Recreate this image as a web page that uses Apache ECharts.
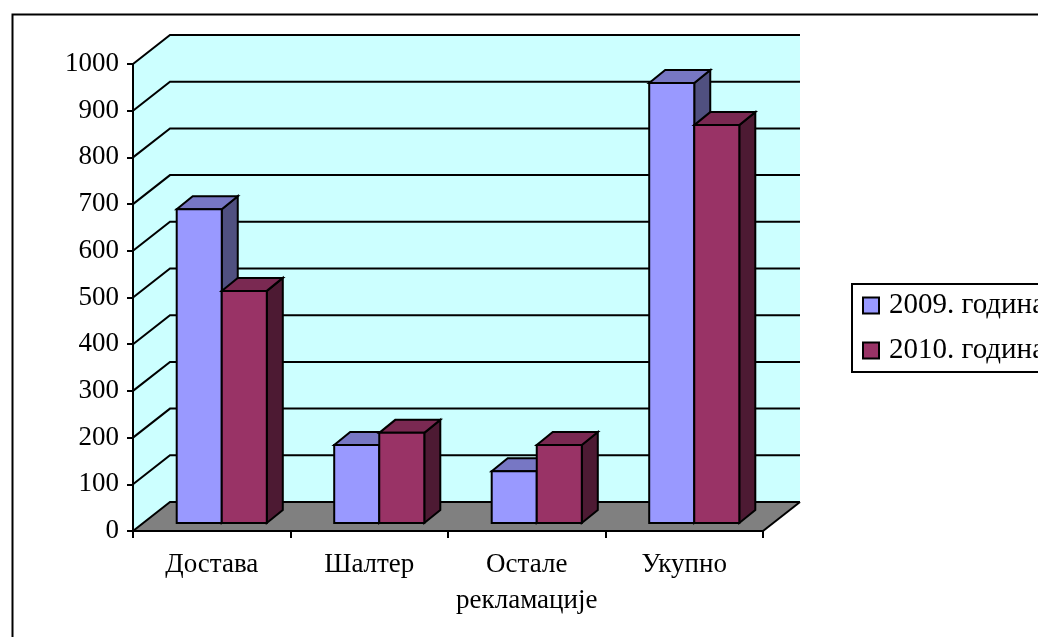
<!DOCTYPE html>
<html>
<head>
<meta charset="utf-8">
<script src="https://cdn.jsdelivr.net/npm/echarts@6/dist/echarts.min.js"></script>
<style>
  html, body { margin: 0; padding: 0; background: #fff; }
  #chart { width: 1038px; height: 637px; }
</style>
</head>
<body>
<div id="chart"></div>
<script>
// podaci
var categories = ['Достава', 'Шалтер', 'Остале\nрекламације', 'Укупно'];
var seriesNames = ['2009. година', '2010. година'];
var values2009 = [672, 167, 111, 942];
var values2010 = [497, 193, 167, 852];
var yTicks = [0, 100, 200, 300, 400, 500, 600, 700, 800, 900, 1000];

// izgled
var FONT = 'Liberation Serif';
var FS = 27;
var WALL = [37, -29];      // pomak zadnjeg zida
var BAR_OFF = [10, -8];    // gde stoje stubici po dubini
var BAR_DEPTH = [16, -13]; // dubina stubica
var faces = [
    { front: '#9999FF', top: '#7777C4', side: '#505080' },
    { front: '#993366', top: '#7A2952', side: '#4D1A33' }
];

var chart = echarts.init(document.getElementById('chart'), null, { renderer: 'canvas' });

function renderBack(params, api) {
    var cs = params.coordSys;
    var x0 = cs.x, x1 = cs.x + cs.width;
    var y0 = api.coord([0, 0])[1];
    var yTop = api.coord([0, yTicks[yTicks.length - 1]])[1];
    var dx = WALL[0], dy = WALL[1];
    var children = [];
    // bocni zid
    children.push({ type: 'polygon', shape: { points: [[x0, yTop], [x0 + dx, yTop + dy], [x0 + dx, y0 + dy], [x0, y0]] },
        style: { fill: '#CCFFFF' } });
    // zadnji zid
    children.push({ type: 'rect', shape: { x: x0 + dx, y: yTop + dy, width: x1 - x0, height: y0 - yTop },
        style: { fill: '#CCFFFF' } });
    // pod
    children.push({ type: 'polygon', shape: { points: [[x0, y0], [x1, y0], [x1 + dx, y0 + dy], [x0 + dx, y0 + dy]] },
        style: { fill: '#808080' } });
    // linije mreze
    yTicks.forEach(function (v) {
        var y = api.coord([0, v])[1];
        children.push({ type: 'polyline', shape: { points: [[x0, y], [x0 + dx, y + dy], [x1 + dx, y + dy]] },
            style: { stroke: '#000', lineWidth: 2, fill: null } });
    });
    children.push({ type: 'line', shape: { x1: x1, y1: y0, x2: x1 + dx, y2: y0 + dy },
        style: { stroke: '#000', lineWidth: 2 } });
    return { type: 'group', children: children };
}

function renderBar(params, api) {
    var s = params.seriesIndex - 1;
    var f = faces[s];
    var base = api.coord([api.value(0), 0]);
    var top = api.coord([api.value(0), api.value(1)]);
    var band = api.size([1, 0])[0];
    var w = band * 0.286;
    var x = base[0] + BAR_OFF[0] + (s === 0 ? -w : 0);
    var yb = base[1] + BAR_OFF[1];
    var yt = top[1] + BAR_OFF[1];
    var dx = BAR_DEPTH[0], dy = BAR_DEPTH[1];
    var st = { stroke: '#000', lineWidth: 2, lineJoin: 'miter' };
    return {
        type: 'group',
        children: [
            { type: 'polygon', shape: { points: [[x + w, yt], [x + w + dx, yt + dy], [x + w + dx, yb + dy], [x + w, yb]] },
              style: Object.assign({ fill: f.side }, st) },
            { type: 'polygon', shape: { points: [[x, yt], [x + w, yt], [x + w + dx, yt + dy], [x + dx, yt + dy]] },
              style: Object.assign({ fill: f.top }, st) },
            { type: 'rect', shape: { x: x, y: yt, width: w, height: yb - yt },
              style: Object.assign({ fill: f.front }, st) }
        ]
    };
}

var option = {
    backgroundColor: '#fff',
    animation: false,
    textStyle: { fontFamily: FONT },
    graphic: [{
        type: 'rect', left: 10, top: 12, z: 100, silent: true,
        shape: { x: 0, y: 0, width: 1100, height: 700 },
        style: { fill: null, stroke: '#000', lineWidth: 2 }
    }],
    grid: { left: 133, right: 275, top: 64, bottom: 106, containLabel: false },
    legend: {
        orient: 'vertical',
        left: 852, top: 284,
        data: seriesNames,
        borderColor: '#000', borderWidth: 2, borderRadius: 0,
        padding: [7, 10, 7, 10],
        itemWidth: 16, itemHeight: 16, itemGap: 16,
        icon: 'rect',
        textStyle: { fontFamily: FONT, fontSize: 29, color: '#000', padding: [0, 0, 0, 5] }
    },
    xAxis: {
        type: 'category',
        data: categories,
        z: 10,
        axisLine: { lineStyle: { color: '#000', width: 2 } },
        axisTick: { show: true, length: 7, lineStyle: { color: '#000', width: 2 } },
        axisLabel: { fontFamily: FONT, fontSize: FS, color: '#000', margin: 16, lineHeight: 36, interval: 0 },
        splitLine: { show: false }
    },
    yAxis: {
        type: 'value',
        min: 0, max: 1000, interval: 100,
        z: 10,
        axisLine: { show: true, lineStyle: { color: '#000', width: 2 } },
        axisTick: { show: true, length: 6, lineStyle: { color: '#000', width: 2 } },
        axisLabel: { fontFamily: FONT, fontSize: FS, color: '#000', margin: 14,
            formatter: function (v) { return String(v); } },
        splitLine: { show: false }
    },
    series: [
        { type: 'custom', name: 'pozadina', renderItem: renderBack, data: [[0, 0]], silent: true, z: 1 },
        { type: 'custom', name: seriesNames[0], renderItem: renderBar, z: 3,
          itemStyle: { color: faces[0].front, borderColor: '#000', borderWidth: 1.5 },
          encode: { x: 0, y: 1 },
          data: values2009.map(function (v, i) { return [i, v]; }) },
        { type: 'custom', name: seriesNames[1], renderItem: renderBar, z: 3,
          itemStyle: { color: faces[1].front, borderColor: '#000', borderWidth: 1.5 },
          encode: { x: 0, y: 1 },
          data: values2010.map(function (v, i) { return [i, v]; }) }
    ]
};

chart.setOption(option);
</script>
</body>
</html>
